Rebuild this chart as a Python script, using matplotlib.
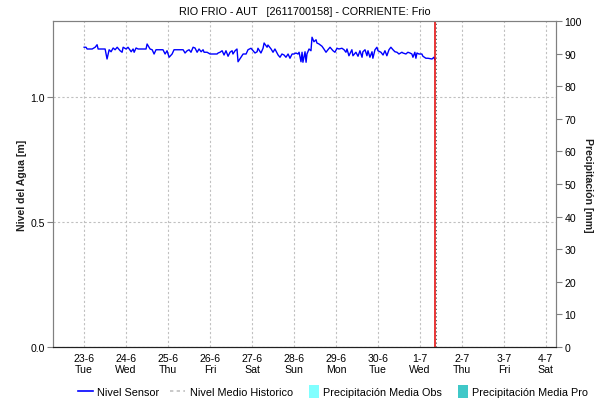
import matplotlib
matplotlib.use('Agg')
import matplotlib.pyplot as plt
from matplotlib.lines import Line2D
from matplotlib.patches import Patch, Rectangle
from matplotlib.legend_handler import HandlerPatch

plt.rcParams['font.family'] = ['Liberation Sans', 'DejaVu Sans']

title = 'RIO FRIO - AUT   [2611700158] - CORRIENTE: Frio'

# hours since 23-6 00:00 and sensor level in metres
hours = [0.0, 1.1, 1.7, 4.6, 6.3, 7.4, 8.0, 12.0, 13.1, 14.3, 15.4, 16.6, 17.7, 18.9,
         20.6, 21.7, 22.3, 24.0, 25.1, 26.9, 28.0, 28.6, 29.7, 30.9, 35.4, 36.0, 37.7,
         38.9, 40.0, 41.1, 45.1, 46.3, 47.4, 48.6, 50.3, 51.4, 56.6, 57.7, 58.9, 60.0,
         61.1, 62.3, 63.4, 64.6, 65.7, 66.9, 68.0, 68.6, 70.3, 72.0, 76.0, 76.6, 77.7,
         78.9, 80.0, 81.1, 82.3, 83.4, 84.6, 85.1, 86.3, 87.4, 88.0, 89.7, 90.9, 92.6,
         93.7, 95.4, 96.6, 97.7, 98.9, 99.4, 101.1, 102.3, 102.9, 104.6, 105.1, 106.9,
         108.0, 109.1, 110.3, 110.9, 112.0, 113.1, 114.3, 115.4, 116.6, 117.7, 118.9,
         120.0, 121.1, 122.3, 122.9, 124.0, 124.6, 125.1, 126.3, 126.9, 127.4, 128.6,
         129.7, 130.3, 131.4, 132.6, 133.1, 134.3, 136.0, 137.1, 138.3, 139.4, 140.6,
         142.3, 143.4, 144.6, 145.7, 147.4, 148.6, 149.7, 150.3, 151.4, 153.1, 153.7,
         155.4, 156.6, 157.7, 158.9, 159.4, 160.6, 161.7, 162.3, 163.4, 164.6, 165.1,
         166.3, 167.4, 168.0, 169.7, 170.9, 172.0, 173.1, 174.3, 175.4, 176.6, 177.7,
         178.9, 180.0, 181.7, 182.3, 184.0, 185.1, 186.3, 187.4, 188.0, 189.1, 189.7,
         190.3, 191.4, 193.1, 193.7, 195.4, 196.6, 198.9, 200.0, 200.6]
nivel = [1.199, 1.199, 1.192, 1.192, 1.199, 1.209, 1.192, 1.192, 1.152, 1.189, 1.181,
         1.196, 1.189, 1.199, 1.185, 1.179, 1.199, 1.192, 1.199, 1.181, 1.192, 1.179,
         1.196, 1.192, 1.192, 1.212, 1.192, 1.189, 1.172, 1.189, 1.189, 1.172, 1.185,
         1.159, 1.172, 1.189, 1.189, 1.176, 1.185, 1.189, 1.179, 1.199, 1.196, 1.179,
         1.192, 1.181, 1.189, 1.179, 1.179, 1.172, 1.172, 1.176, 1.179, 1.185, 1.168,
         1.185, 1.163, 1.179, 1.185, 1.172, 1.185, 1.192, 1.141, 1.159, 1.172, 1.172,
         1.189, 1.195, 1.185, 1.176, 1.181, 1.195, 1.176, 1.195, 1.216, 1.199, 1.208,
         1.192, 1.179, 1.192, 1.176, 1.168, 1.159, 1.172, 1.168, 1.159, 1.172, 1.155,
         1.172, 1.172, 1.176, 1.172, 1.179, 1.141, 1.179, 1.139, 1.181, 1.139, 1.172,
         1.192, 1.185, 1.239, 1.221, 1.229, 1.216, 1.212, 1.203, 1.192, 1.179, 1.189,
         1.199, 1.185, 1.179, 1.195, 1.192, 1.195, 1.189, 1.179, 1.192, 1.165, 1.189,
         1.165, 1.179, 1.163, 1.185, 1.159, 1.181, 1.189, 1.165, 1.185, 1.159, 1.181,
         1.155, 1.189, 1.199, 1.185, 1.179, 1.168, 1.185, 1.165, 1.189, 1.199, 1.189,
         1.181, 1.179, 1.172, 1.179, 1.176, 1.172, 1.179, 1.176, 1.172, 1.159, 1.179,
         1.155, 1.176, 1.172, 1.172, 1.163, 1.155, 1.155, 1.152, 1.159, 1.149]

now_hour = 200.6
days = ['23-6', '24-6', '25-6', '26-6', '27-6', '28-6', '29-6', '30-6', '1-7', '2-7', '3-7', '4-7']
weekdays = ['Tue', 'Wed', 'Thu', 'Fri', 'Sat', 'Sun', 'Mon', 'Tue', 'Wed', 'Thu', 'Fri', 'Sat']

fig = plt.figure(figsize=(5.98, 4.02), dpi=100)
ax = fig.add_axes([53 / 598, 1 - 348 / 402, 503 / 598, 326 / 402])
ax2 = ax.twinx()

ax.plot(hours, nivel, color='#0000ff', lw=1.0, zorder=3)
# current time marker: red line with a faint dotted trace next to it
ax.axvline(now_hour, color='#e00000', lw=1.1, zorder=4)
ax.axvline(now_hour + 0.7, color='#505050', lw=0.6, ls=(0, (1.5, 3)), zorder=5)

ax.set_xlim(-17.8, 269.8)
ax.set_ylim(0, 1.304)
ax2.set_ylim(0, 100)

xt = [24 * i for i in range(len(days))]
ax.set_xticks(xt, [f'{d}\n{w}' for d, w in zip(days, weekdays)])
ax.set_yticks([0.0, 0.5, 1.0], ['0.0', '0.5', '1.0'])
ax2.set_yticks(range(0, 101, 10))

ax.grid(True, color='#c0c0c0', ls=(0, (2, 2)), lw=0.8)
ax.tick_params(axis='x', length=0, pad=4, labelsize=7.6)
ax.tick_params(axis='y', length=4, color='#808080', labelsize=7.6, pad=2)
ax2.tick_params(axis='y', length=4, color='#808080', labelsize=7.6, pad=2)

for a in (ax, ax2):
    for s in ('left', 'right', 'top'):
        a.spines[s].set_color('#808080')
    a.spines['bottom'].set_color('#202020')
    a.spines['bottom'].set_linestyle((0, (1, 1)))

ax.set_ylabel('Nivel del Agua [m]', fontsize=7.6, fontweight='bold', labelpad=2, color='#202020')
ax2.set_ylabel('Precipitación [mm]', fontsize=7.6, fontweight='bold', rotation=-90, labelpad=8,
               color='#202020')
ax.set_title(title, fontsize=7.8, pad=5)


def narrow_box(legend, orig_handle, xdescent, ydescent, width, height, fontsize):
    # small upright swatch at the right end of the handle slot
    w = 7
    return Rectangle((width - w - xdescent, -ydescent - 1), w, height + 2)


handles = [
    Line2D([], [], color='#0000ff', lw=1.2),
    Line2D([], [], color='#c0c0c0', lw=1.2, ls=(0, (2, 2))),
    Patch(facecolor='#80ffff', edgecolor='none'),
    Patch(facecolor='#40c8c8', edgecolor='none'),
]
labels = ['Nivel Sensor', 'Nivel Medio Historico', 'Precipitación Media Obs', 'Precipitación Media Pro']
fig.legend(handles, labels, loc='center', bbox_to_anchor=(333 / 598, 1 - 393 / 402), ncol=4,
           frameon=False, fontsize=7.8, handlelength=1.4, handletextpad=0.4, columnspacing=1.0,
           handleheight=1.0,
           handler_map={Patch: HandlerPatch(patch_func=narrow_box)})

fig.savefig('out.png', dpi=100)
